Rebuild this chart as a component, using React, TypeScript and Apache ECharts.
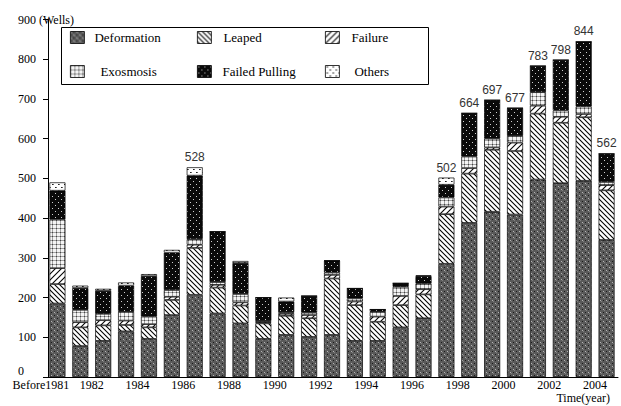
import React, { useEffect, useRef } from "react";
import * as echarts from "echarts";

const categories = [
  "Before1981", "1981", "1982", "1983", "1984", "1985", "1986", "1987", "1988", "1989",
  "1990", "1991", "1992", "1993", "1994", "1995", "1996", "1997", "1998", "1999",
  "2000", "2001", "2002", "2003", "2004",
];
const deformation = [185, 78, 91, 115, 96, 156, 207, 160, 135, 96, 106, 101, 106, 91, 91, 125, 148, 285, 388, 416, 409, 497, 488, 494, 345];
const leaped = [49, 47, 39, 16, 29, 38, 118, 65, 45, 39, 48, 47, 142, 90, 48, 56, 60, 125, 124, 156, 160, 166, 152, 160, 125];
const failure = [40, 13, 13, 11, 8, 8, 8, 7, 8, 3, 5, 8, 9, 9, 13, 23, 13, 19, 14, 6, 21, 20, 15, 8, 13];
const exosmosis = [123, 31, 16, 22, 19, 17, 14, 7, 21, 3, 4, 6, 6, 8, 12, 23, 14, 23, 29, 22, 17, 34, 16, 19, 8];
const failedPulling = [72, 55, 58, 66, 102, 94, 160, 127, 78, 59, 27, 42, 30, 25, 6, 9, 19, 32, 109, 97, 70, 66, 127, 163, 71];
const others = [21, 6, 5, 8, 5, 7, 21, 0, 5, 0, 10, 0, 0, 0, 0, 0, 2, 18, 0, 0, 0, 0, 0, 0, 0];
const labelledYears = ["1986", "1997", "1998", "1999", "2000", "2001", "2002", "2003", "2004"];
const yTicks = [0, 100, 200, 300, 400, 500, 600, 700, 800, 900];

const SERIF = "'Liberation Serif', 'Times New Roman', serif";

function mk(size: number, draw: (ctx: CanvasRenderingContext2D, s: number) => void) {
  const c = document.createElement("canvas");
  c.width = size;
  c.height = size;
  const ctx = c.getContext("2d") as CanvasRenderingContext2D;
  draw(ctx, size);
  return { image: c, repeat: "repeat" } as any;
}

function px(ctx: CanvasRenderingContext2D, x: number, y: number, col: string) {
  ctx.fillStyle = col;
  ctx.fillRect(x, y, 1, 1);
}

function patterns() {
  const def = mk(6, (ctx, s) => {
    ctx.fillStyle = "#5a5a5a";
    ctx.fillRect(0, 0, s, s);
    px(ctx, 0, 0, "#b4b4b4");
    px(ctx, 3, 3, "#b4b4b4");
    px(ctx, 0, 3, "#1a1a1a");
    px(ctx, 3, 0, "#1a1a1a");
    px(ctx, 1, 1, "#808080");
    px(ctx, 4, 4, "#808080");
  });
  const leap = mk(5, (ctx, s) => {
    ctx.fillStyle = "#fff";
    ctx.fillRect(0, 0, s, s);
    ctx.strokeStyle = "#000";
    ctx.lineWidth = 1.1;
    for (let k = -1; k <= 1; k++) {
      ctx.beginPath();
      ctx.moveTo(k * s - 1, -1);
      ctx.lineTo(k * s + s + 1, s + 1);
      ctx.stroke();
    }
  });
  const fail = mk(6, (ctx, s) => {
    ctx.fillStyle = "#fff";
    ctx.fillRect(0, 0, s, s);
    ctx.strokeStyle = "#000";
    ctx.lineWidth = 1.1;
    for (let k = -1; k <= 1; k++) {
      ctx.beginPath();
      ctx.moveTo(k * s - 1, s + 1);
      ctx.lineTo(k * s + s + 1, -1);
      ctx.stroke();
    }
  });
  const exo = mk(4, (ctx, s) => {
    ctx.fillStyle = "#f4f4f4";
    ctx.fillRect(0, 0, s, s);
    for (let i = 0; i < s; i++) {
      px(ctx, i, 0, "#a0a0a0");
      px(ctx, 0, i, "#a0a0a0");
    }
    px(ctx, 0, 0, "#444");
  });
  const fp = mk(6, (ctx, s) => {
    ctx.fillStyle = "#0a0a0a";
    ctx.fillRect(0, 0, s, s);
    px(ctx, 1, 1, "#d0d0d0");
    px(ctx, 4, 4, "#d0d0d0");
  });
  const oth = mk(6, (ctx, s) => {
    ctx.fillStyle = "#fff";
    ctx.fillRect(0, 0, s, s);
    px(ctx, 1, 1, "#222");
    px(ctx, 4, 4, "#222");
    px(ctx, 2, 1, "#666");
    px(ctx, 5, 4, "#666");
  });
  return [def, leap, fail, exo, fp, oth];
}

export default function App() {
  const ref = useRef<HTMLDivElement>(null);
  useEffect(() => {
    if (!ref.current) return;
    const chart = echarts.init(ref.current, undefined, { renderer: "svg" });
    const pats = patterns();
    const names = ["Deformation", "Leaped", "Failure", "Exosmosis", "Failed Pulling", "Others"];
    const datas = [deformation, leaped, failure, exosmosis, failedPulling, others];
    const totals = categories.map((_, i) => datas.reduce((a, d) => a + d[i], 0));

    const series = names.map((n, si) => ({
      name: n,
      type: "bar",
      stack: "all",
      barWidth: 16,
      data: datas[si],
      itemStyle: { color: pats[si], borderColor: "#000", borderWidth: 0.7 },
      label:
        si === 5
          ? {
              show: true,
              position: "top",
              distance: 4,
              fontFamily: "'Liberation Sans', Arial, sans-serif",
              fontSize: 12,
              color: "#333",
              formatter: (p: any) => (labelledYears.includes(p.name) ? String(totals[p.dataIndex]) : ""),
            }
          : { show: false },
    }));

    const legendPos = [
      { n: "Deformation", left: 70, top: 31, gap: 10 },
      { n: "Leaped", left: 197, top: 31, gap: 12 },
      { n: "Failure", left: 325, top: 31, gap: 12 },
      { n: "Exosmosis", left: 70, top: 65, gap: 16 },
      { n: "Failed Pulling", left: 197, top: 65, gap: 11 },
      { n: "Others", left: 325, top: 65, gap: 15 },
    ];

    chart.setOption({
      animation: false,
      backgroundColor: "#fff",
      grid: { left: 46, right: 3, top: 19.5, bottom: 29, containLabel: false },
      legend: legendPos.map((l) => ({
        data: [l.n],
        left: l.left,
        top: l.top,
        padding: 0,
        itemWidth: 14,
        itemHeight: 12,
        icon: "rect",
        itemStyle: { borderColor: "#000", borderWidth: 0.8 },
        selectedMode: false,
        textStyle: {
          fontFamily: SERIF,
          fontSize: 13,
          color: "#000",
          padding: [0, 0, 0, l.gap - 5],
        },
      })),
      xAxis: {
        type: "category",
        data: categories,
        axisLine: { lineStyle: { color: "#000", width: 1 } },
        axisTick: { show: false },
        axisLabel: {
          interval: 1,
          margin: 2,
          color: "#000",
          fontFamily: SERIF,
          fontSize: 12,
          formatter: (v: string, i: number) => (i === 0 ? `{b|${v}}` : `{n|${v}}`),
          rich: {
            b: { padding: [0, 33, 0, 0], fontFamily: SERIF, fontSize: 12, color: "#000" },
            n: { padding: [0, 23, 0, 0], fontFamily: SERIF, fontSize: 12, color: "#000" },
          },
        },
      },
      yAxis: {
        type: "value",
        min: 0,
        max: 900,
        interval: 100,
        offset: -2,
        splitLine: { show: false },
        axisLine: { show: true, lineStyle: { color: "#000", width: 1 } },
        axisTick: { show: true, length: 5, lineStyle: { color: "#000" } },
        axisLabel: {
          align: "left",
          margin: 30,
          color: "#000",
          fontFamily: SERIF,
          fontSize: 12,
          formatter: (v: number) =>
            v === 0 ? "{z|0}" : v === 900 ? `${yTicks[9]} (Wells)` : String(v),
          rich: {
            z: { padding: [0, 0, 12, 0], fontFamily: SERIF, fontSize: 12, color: "#000" },
          },
        },
      },
      graphic: [
        {
          type: "rect",
          shape: { x: 61.5, y: 27.5, width: 367, height: 57 },
          style: { fill: "none", stroke: "#000", lineWidth: 1 },
          z: 10,
        },
        {
          type: "text",
          x: 610,
          y: 398,
          style: {
            text: "Time(year)",
            fontFamily: SERIF,
            fontSize: 12,
            fill: "#000",
            align: "right",
            verticalAlign: "middle",
          },
        },
      ],
      series,
    } as any);
    return () => chart.dispose();
  }, []);
  return <div ref={ref} style={{ width: 621, height: 406, position: "absolute", left: 0, top: 0 }} />;
}
